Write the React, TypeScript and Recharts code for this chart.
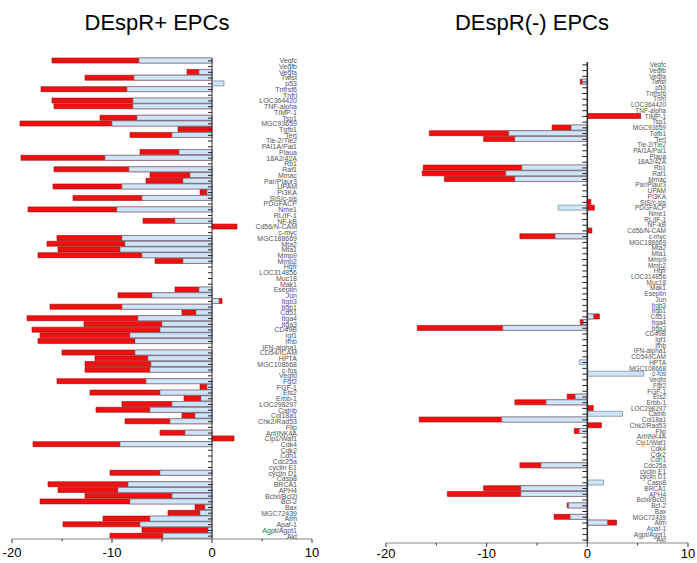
import React from "react";
import { BarChart, Bar, XAxis, YAxis, ReferenceLine } from "recharts";

const genes = [
  "Vegfc", "Vegfb", "Vegfa", "Twist", "p53", "Tnfrsf6", "Tnfrl", "LOC364420", "TNF-alpha", "TIMP-1",
  "Tsp1", "MGC93659", "Tgfb1", "Tert", "Tie-2/Tie2", "PAI1A/Pai1", "Plaua", "18A2/42A", "Rb1", "Raf1",
  "Mmac", "Par/Plaur3", "UPAM", "PI3KA", "SIS/c-sis", "PDGFACP", "Nme1", "RL/IF-1", "NF-kB", "Cd56/N-CAM",
  "c-myc", "MGC188669", "Mta2", "Mta1", "Mmp9", "Mmp2", "Hgfr", "LOC314856", "Muc18", "Mak1",
  "Eseptin", "Jun", "Itgb3", "Itgb1", "Cd51", "Itga4", "Itga3", "CD49B", "Igf1", "Ifnb",
  "IFN-alpha1", "CD54/ICAM", "HPTA", "MGC108668", "c-fos", "Vegfd", "Fgf2", "FGF-1", "Ets2", "Erbb-1",
  "LOC298297", "Catnb", "Col18a1", "Chk2/Rad53", "Flip", "Arf/INK4A", "Cip1/Waf1", "Cdk4", "Cdk2", "Cdh1",
  "Cdc25a", "cyclin E1", "cyclin D1", "Casp8", "BRCA1", "APH4", "Bclxl/Bcl2l", "Bcl-2", "Bax", "MGC72439",
  "Atm", "Apaf-1", "Agpt/Agpt1", "Akt",
];

// DEspR+ EPCs
const redPlus = [
  -16.0, 0, -2.5, -12.7, 0, -17.1, 0, -16.0, -15.8, 0,
  -11.2, -19.2, -3.4, -8.2, 0, 0, -7.2, -19.1, 0, -15.8,
  -6.2, -6.6, -15.9, -1.2, -13.9, 0, -18.4, 0, -6.9, 2.5,
  0, -15.5, -16.5, -15.4, -17.4, -5.7, 0, 0, 0, 0,
  -3.7, -9.4, 1.0, -16.2, -3.0, -18.5, -12.8, -18.0, -17.2, -17.4,
  0, -15.0, -11.7, -12.7, -12.7, 0, -15.5, -1.2, -12.2, -2.8,
  -9.0, -11.6, -3.0, -8.7, 0, -5.2, 2.2, -17.9, 0, 0,
  0, 0, -10.2, 0, -16.4, -15.4, -12.7, -17.2, -1.7, -4.4,
  -10.9, -14.9, -7.0, -10.2,
];
const bluePlus = [
  -7.3, 0, -1.3, -7.8, 1.2, -8.5, 0, -7.9, -7.9, 0,
  -7.5, -10.0, 0, -4.0, 0, 0, -3.3, -10.7, 0, -8.3,
  -2.2, -2.9, -9.0, -0.5, -7.0, 0, -9.5, 0, -3.7, 0,
  0, -9.0, -8.7, -9.2, -7.0, -2.9, 0, 0, 0, 0,
  -1.3, -6.0, 0.7, -9.0, -1.6, -7.4, -5.0, -5.2, -8.2, -7.7,
  0, -7.7, -6.4, -6.1, -6.2, 0, -6.6, -0.5, -5.2, -1.1,
  -4.0, -6.2, -1.7, -4.2, 0, -2.7, 0, -9.2, 0, 0,
  0, 0, -5.2, 0, -8.4, -9.4, -4.0, -8.2, -0.7, -1.2,
  -6.2, -7.2, -0.4, -4.9,
];

// DEspR(-) EPCs
const redMinus = [
  0, 0, 0, -0.7, 0, 0, 0, 0, 0, 5.3,
  0, -3.5, -15.7, -10.3, 0, 0, 0, 0, -16.3, -16.4,
  -14.2, 0, 0, 0, 0.35, 0.7, 0, 0, 0, 0.45,
  -6.7, 0, 0, 0, 0, 0, 0, 0, 0, 0,
  0, 0, 0, 0, 1.2, -0.7, -16.9, 0, 0, 0,
  0, 0, 0, 0, 0, 0, 0, 0, -2.0, -7.2,
  0.6, 0, -16.7, 1.4, -1.3, 0, 0, 0, 0, 0,
  -6.7, 0, 0, 0, -10.3, -13.9, 0, -2.0, 0, -3.3,
  2.9, 0, 0, 0,
];
const blueMinus = [
  0, 0, 0, -0.5, 0, 0, 0, 0, 0, 0,
  0, -1.6, -7.8, -7.2, 0, 0, 0, 0, -6.5, -8.1,
  -7.2, 0, 0, 0, 0, -2.9, 0, 0, 0, 0,
  -3.2, 0, 0, 0, 0, 0, 0, 0, 0, 0,
  0, 0, 0, 0, 0.6, -0.4, -8.4, 0, 0, 0,
  0, 0, -0.8, 0, 5.6, 0, 0, 0, -1.2, -4.1,
  0, 3.5, -8.5, 0, -0.8, 0, 0, 0, 0, 0,
  -4.6, 0, 0, 1.6, -6.6, -6.6, 0, -1.85, 0, -1.7,
  2.0, 0, 0, 0,
];

const xTicks = [-20, -15, -10, -5, 0, 5, 10];
const X_MIN = -20;
const X_MAX = 10;

const FONT = "'Liberation Sans', Arial, sans-serif";

interface PanelProps {
  red: number[];
  blue: number[];
  width: number;
  margin: { top: number; right: number; bottom: number; left: number };
  labelDx: number;
  labelSize: number;
  tickLen: number;
  zeroWidth: number;
  xLabelGap: number;
}

function Panel({ red, blue, width, margin, labelDx, labelSize, tickLen, zeroWidth, xLabelGap }: PanelProps) {
  const data = genes.map((g, i) => ({ gene: g, red: red[i], blue: blue[i] }));
  const plotW = width - margin.left - margin.right - 1;
  const zeroX = margin.left + ((0 - X_MIN) / (X_MAX - X_MIN)) * plotW;

  const geneTick = (p: any) => (
    <g>
      <line x1={zeroX - tickLen} x2={zeroX} y1={p.y} y2={p.y} stroke="#222" strokeWidth={1} />
      <text
        x={p.x + labelDx}
        y={p.y}
        dy="0.35em"
        textAnchor="end"
        fontSize={labelSize}
        fontFamily={FONT}
        style={{ fill: "#555" }}
      >
        {p.payload.value}
      </text>
    </g>
  );

  const valueTick = (p: any) => {
    const v = p.payload.value as number;
    const major = v % 10 === 0;
    const axisY = p.y - 4 - xLabelGap;
    return (
      <g>
        <line x1={p.x} x2={p.x} y1={axisY} y2={axisY + (major ? 4 : 2.5)} stroke="#333" />
        {major && (
          <text x={p.x} y={p.y} dy="0.71em" textAnchor="middle" fontSize={13} fontFamily={FONT} style={{ fill: "#000" }}>
            {v}
          </text>
        )}
      </g>
    );
  };

  return (
    <BarChart width={width} height={563} data={data} layout="vertical" margin={margin} barSize={5}>
      <XAxis
        type="number"
        domain={[X_MIN, X_MAX]}
        ticks={xTicks}
        allowDataOverflow
        height={20}
        tickSize={4}
        tickMargin={xLabelGap}
        tickLine={false}
        axisLine={{ stroke: "#888" }}
        tick={valueTick}
        interval={0}
      />
      <YAxis
        yAxisId="a"
        type="category"
        dataKey="gene"
        orientation="right"
        width={1}
        tickSize={0}
        tickMargin={0}
        axisLine={false}
        tickLine={false}
        interval={0}
        tick={geneTick}
      />
      <YAxis yAxisId="b" type="category" dataKey="gene" hide />
      <Bar yAxisId="a" dataKey="red" fill="#ee1111" stroke="#a30000" strokeWidth={0.6} isAnimationActive={false} />
      <Bar yAxisId="b" dataKey="blue" fill="#cfe5f7" stroke="#5f7587" strokeWidth={0.6} isAnimationActive={false} />
      <ReferenceLine x={0} yAxisId="a" stroke="#333" strokeWidth={zeroWidth} />
    </BarChart>
  );
}

export default function App() {
  return (
    <div style={{ position: "absolute", left: 0, top: 0, width: 697, height: 563, background: "#fff", overflow: "hidden" }}>
      <div style={{ position: "absolute", left: 0, top: 0 }}>
        <Panel
          red={redPlus}
          blue={bluePlus}
          width={320}
          margin={{ top: 58, right: 7, bottom: 4, left: 12 }}
          labelDx={-15}
          labelSize={7}
          tickLen={4}
          zeroWidth={1}
          xLabelGap={5}
        />
      </div>
      <div style={{ position: "absolute", left: 370, top: 0 }}>
        <Panel
          red={redMinus}
          blue={blueMinus}
          width={327}
          margin={{ top: 62, right: 8, bottom: 0, left: 16 }}
          labelDx={-22}
          labelSize={6.5}
          tickLen={5}
          zeroWidth={1.6}
          xLabelGap={2}
        />
      </div>
      <div style={{ position: "absolute", left: 0, width: 314, top: 10, textAlign: "center", fontFamily: FONT, fontSize: 22 }}>
        DEspR+ EPCs
      </div>
      <div style={{ position: "absolute", left: 375, width: 314, top: 10, textAlign: "center", fontFamily: FONT, fontSize: 22 }}>
        DEspR(-) EPCs
      </div>
    </div>
  );
}
